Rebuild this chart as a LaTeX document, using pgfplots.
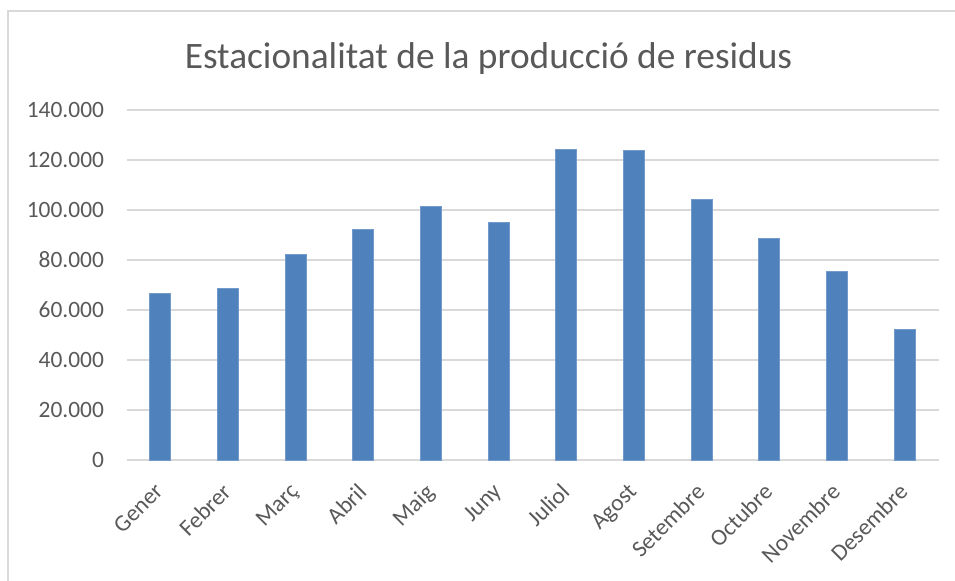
\documentclass[border=0pt]{standalone}
\usepackage{pgfplots}
\pgfplotsset{compat=1.18}
\usepackage{fontspec}
\setmainfont{Carlito}
\definecolor{barblue}{HTML}{4F81BD}
\definecolor{txt}{HTML}{595959}
\definecolor{grd}{HTML}{D9D9D9}
\begin{document}
\begin{tikzpicture}
\useasboundingbox (0bp,0bp) rectangle (955bp,-581bp);
\draw[grd, line width=2bp] (8bp,-581bp) -- (8bp,-11bp) -- (955bp,-11bp);
\node[txt, font=\fontsize{37.5}{42}\selectfont, anchor=base] at (488.5bp,-68bp) {Estacionalitat de la producció de residus};
\begin{axis}[
  at={(126.5bp,-460bp)}, anchor=south west,
  scale only axis, width=812bp, height=350bp,
  xmin=-0.5, xmax=11.5, ymin=0, ymax=140000,
  ybar, bar width=21bp,
  xtick=data,
  xticklabels={Gener,Febrer,Març,Abril,Maig,Juny,Juliol,Agost,Setembre,Octubre,Novembre,Desembre},
  ytick={0,20000,40000,60000,80000,100000,120000,140000},
  yticklabels={0,20.000,40.000,60.000,80.000,100.000,120.000,140.000},
  scaled y ticks=false,
  ymajorgrids, grid style={grd, line width=1.3bp},
  axis line style={draw=none},
  tick style={draw=none},
  tick label style={txt, font=\fontsize{23.5}{28}\selectfont},
  yticklabel style={xshift=-19bp},
  xticklabel style={xshift=-7bp, yshift=-13bp, rotate=45, anchor=north east},
]
\addplot[fill=barblue, draw=barblue!80!white, line width=0.8bp] coordinates {
(0,66700) (1,68800) (2,82400) (3,92400) (4,101500) (5,95200)
(6,124100) (7,123900) (8,104400) (9,88800) (10,75600) (11,52400)};
\end{axis}
\end{tikzpicture}
\end{document}
